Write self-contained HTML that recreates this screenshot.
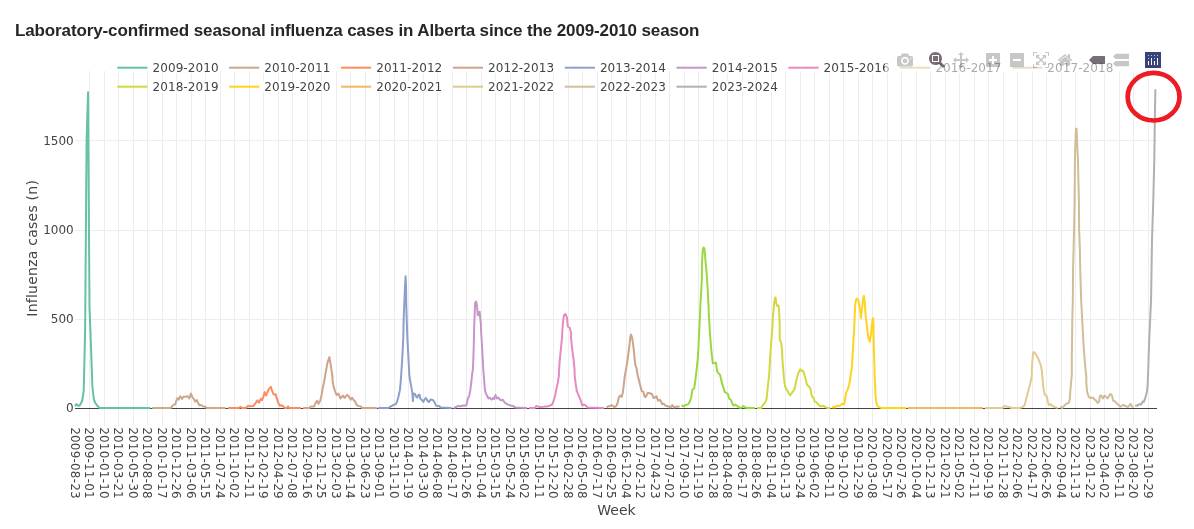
<!DOCTYPE html>
<html lang="en"><head><meta charset="utf-8"><title>Laboratory-confirmed seasonal influenza cases in Alberta</title>
<style>
html,body{margin:0;padding:0;background:#fff;}
body{width:1194px;height:529px;overflow:hidden;position:relative;font-family:'DejaVu Sans', 'Liberation Sans', sans-serif;}
#chart{position:absolute;left:0;top:0;display:block;}
h1{position:absolute;left:15px;top:20.7px;margin:0;font:bold 17px/20px 'Liberation Sans', sans-serif;color:#262626;white-space:nowrap;letter-spacing:-0.125px;}
.t{font-family:'DejaVu Sans', 'Liberation Sans', sans-serif;fill:#444444;}
.g line{stroke:#ededed;stroke-width:1;shape-rendering:crispEdges;}
.c path{fill:none;stroke-width:2;stroke-linejoin:round;stroke-linecap:butt;}
.lg line{stroke-width:2;}
</style></head><body>
<h1>Laboratory-confirmed seasonal influenza cases in Alberta since the 2009-2010 season</h1>
<svg id="chart" width="1194" height="529" viewBox="0 0 1194 529">
<g class="g">
<line x1="89.5" y1="71" x2="89.5" y2="426"/>
<line x1="104.5" y1="71" x2="104.5" y2="426"/>
<line x1="118.5" y1="71" x2="118.5" y2="426"/>
<line x1="133.5" y1="71" x2="133.5" y2="426"/>
<line x1="147.5" y1="71" x2="147.5" y2="426"/>
<line x1="162.5" y1="71" x2="162.5" y2="426"/>
<line x1="176.5" y1="71" x2="176.5" y2="426"/>
<line x1="191.5" y1="71" x2="191.5" y2="426"/>
<line x1="205.5" y1="71" x2="205.5" y2="426"/>
<line x1="220.5" y1="71" x2="220.5" y2="426"/>
<line x1="234.5" y1="71" x2="234.5" y2="426"/>
<line x1="249.5" y1="71" x2="249.5" y2="426"/>
<line x1="263.5" y1="71" x2="263.5" y2="426"/>
<line x1="278.5" y1="71" x2="278.5" y2="426"/>
<line x1="292.5" y1="71" x2="292.5" y2="426"/>
<line x1="307.5" y1="71" x2="307.5" y2="426"/>
<line x1="321.5" y1="71" x2="321.5" y2="426"/>
<line x1="336.5" y1="71" x2="336.5" y2="426"/>
<line x1="350.5" y1="71" x2="350.5" y2="426"/>
<line x1="365.5" y1="71" x2="365.5" y2="426"/>
<line x1="379.5" y1="71" x2="379.5" y2="426"/>
<line x1="394.5" y1="71" x2="394.5" y2="426"/>
<line x1="408.5" y1="71" x2="408.5" y2="426"/>
<line x1="423.5" y1="71" x2="423.5" y2="426"/>
<line x1="437.5" y1="71" x2="437.5" y2="426"/>
<line x1="452.5" y1="71" x2="452.5" y2="426"/>
<line x1="466.5" y1="71" x2="466.5" y2="426"/>
<line x1="481.5" y1="71" x2="481.5" y2="426"/>
<line x1="495.5" y1="71" x2="495.5" y2="426"/>
<line x1="510.5" y1="71" x2="510.5" y2="426"/>
<line x1="524.5" y1="71" x2="524.5" y2="426"/>
<line x1="539.5" y1="71" x2="539.5" y2="426"/>
<line x1="553.5" y1="71" x2="553.5" y2="426"/>
<line x1="568.5" y1="71" x2="568.5" y2="426"/>
<line x1="582.5" y1="71" x2="582.5" y2="426"/>
<line x1="597.5" y1="71" x2="597.5" y2="426"/>
<line x1="611.5" y1="71" x2="611.5" y2="426"/>
<line x1="626.5" y1="71" x2="626.5" y2="426"/>
<line x1="640.5" y1="71" x2="640.5" y2="426"/>
<line x1="655.5" y1="71" x2="655.5" y2="426"/>
<line x1="669.5" y1="71" x2="669.5" y2="426"/>
<line x1="684.5" y1="71" x2="684.5" y2="426"/>
<line x1="698.5" y1="71" x2="698.5" y2="426"/>
<line x1="713.5" y1="71" x2="713.5" y2="426"/>
<line x1="727.5" y1="71" x2="727.5" y2="426"/>
<line x1="742.5" y1="71" x2="742.5" y2="426"/>
<line x1="756.5" y1="71" x2="756.5" y2="426"/>
<line x1="771.5" y1="71" x2="771.5" y2="426"/>
<line x1="785.5" y1="71" x2="785.5" y2="426"/>
<line x1="800.5" y1="71" x2="800.5" y2="426"/>
<line x1="814.5" y1="71" x2="814.5" y2="426"/>
<line x1="829.5" y1="71" x2="829.5" y2="426"/>
<line x1="843.5" y1="71" x2="843.5" y2="426"/>
<line x1="858.5" y1="71" x2="858.5" y2="426"/>
<line x1="872.5" y1="71" x2="872.5" y2="426"/>
<line x1="887.5" y1="71" x2="887.5" y2="426"/>
<line x1="901.5" y1="71" x2="901.5" y2="426"/>
<line x1="916.5" y1="71" x2="916.5" y2="426"/>
<line x1="930.5" y1="71" x2="930.5" y2="426"/>
<line x1="945.5" y1="71" x2="945.5" y2="426"/>
<line x1="959.5" y1="71" x2="959.5" y2="426"/>
<line x1="974.5" y1="71" x2="974.5" y2="426"/>
<line x1="988.5" y1="71" x2="988.5" y2="426"/>
<line x1="1003.5" y1="71" x2="1003.5" y2="426"/>
<line x1="1017.5" y1="71" x2="1017.5" y2="426"/>
<line x1="1032.5" y1="71" x2="1032.5" y2="426"/>
<line x1="1046.5" y1="71" x2="1046.5" y2="426"/>
<line x1="1061.5" y1="71" x2="1061.5" y2="426"/>
<line x1="1075.5" y1="71" x2="1075.5" y2="426"/>
<line x1="1090.5" y1="71" x2="1090.5" y2="426"/>
<line x1="1104.5" y1="71" x2="1104.5" y2="426"/>
<line x1="1119.5" y1="71" x2="1119.5" y2="426"/>
<line x1="1133.5" y1="71" x2="1133.5" y2="426"/>
<line x1="1148.5" y1="71" x2="1148.5" y2="426"/>
<line x1="75" y1="319.5" x2="1157" y2="319.5"/>
<line x1="75" y1="230.5" x2="1157" y2="230.5"/>
<line x1="75" y1="140.5" x2="1157" y2="140.5"/>
</g>
<line x1="75" y1="408.5" x2="1157" y2="408.5" stroke="#444" stroke-width="1" shape-rendering="crispEdges"/>
<g class="c">
<path stroke="#66C2A5" d="M75.00,406.20L76.45,404.00L77.90,405.50L79.35,405.90L80.80,403.50L82.25,400.50L83.70,391.00L85.15,328.00L86.60,140.00L88.05,92.30L89.50,308.00L90.95,345.00L92.40,387.00L93.86,399.50L95.31,403.00L96.76,405.00L98.21,406.60L99.66,408.00L101.11,408.00L102.56,408.00L104.01,408.00L105.46,408.00L106.91,408.00L108.36,408.00L109.81,408.00L111.26,408.00L112.71,408.00L114.16,408.00L115.61,408.00L117.06,408.00L118.51,408.00L119.96,408.00L121.41,408.00L122.86,408.00L124.31,408.00L125.76,408.00L127.21,408.00L128.66,408.00L130.12,408.00L131.57,408.00L133.02,408.00L134.47,408.00L135.92,408.00L137.37,408.00L138.82,408.00L140.27,408.00L141.72,408.00L143.17,408.00L144.62,408.00L146.07,408.00L147.52,408.00L148.97,408.00L150.42,408.00"/>
<path stroke="#CBA88A" d="M152.20,408.00L170.72,408.00L172.99,405.34L175.26,404.21L176.39,400.42L177.53,398.15L178.66,399.67L180.17,396.26L182.07,398.91L183.58,396.64L185.85,396.79L187.74,396.26L189.25,398.53L190.92,393.62L192.28,397.02L194.17,399.67L195.30,401.56L196.82,400.05L197.95,402.69L199.46,405.34L200.98,404.96L203.25,406.48L205.51,406.85L206.65,408.00L225.60,408.00"/>
<path stroke="#FC8D62" d="M227.94,408.00L238.91,408.00L240.42,406.85L241.94,408.00L245.72,408.00L247.61,406.10L250.26,406.32L253.28,406.10L255.55,403.07L257.44,400.42L258.96,402.69L260.85,398.91L261.98,400.05L263.49,396.26L264.63,392.10L266.14,395.51L267.28,392.48L268.79,389.08L270.83,386.81L271.82,389.83L273.33,393.99L274.31,394.75L275.60,393.99L276.73,398.15L278.25,402.69L279.76,405.72L281.65,405.34L282.78,406.10L285.05,408.00L286.57,408.00L288.08,406.48L289.21,408.00L300.94,408.00"/>
<path stroke="#D0A48A" d="M303.17,408.00L309.37,408.00L310.89,406.39L313.91,406.62L315.42,403.37L317.09,400.72L318.60,403.74L320.34,400.34L321.48,395.42L322.61,388.62L324.12,381.81L325.26,375.00L327.53,362.40L329.42,357.10L330.93,366.18L332.44,376.77L332.44,375.00L332.59,381.05L333.58,386.35L335.09,391.26L336.60,395.05L338.49,393.53L340.39,398.45L343.03,395.57L344.55,397.84L347.19,394.82L348.86,396.56L350.60,399.58L352.11,397.69L353.62,399.96L355.14,401.48L356.65,404.88L358.16,405.86L360.81,406.39L361.94,408.00L377.07,408.00"/>
<path stroke="#8DA0CB" d="M378.17,408.00L388.53,408.00L390.05,406.77L392.69,405.26L395.72,404.12L396.85,402.23L398.37,396.94L399.88,390.13L400.64,382.56L401.16,375.00L402.15,360.69L403.28,338.00L403.66,318.91L404.42,300.00L404.95,287.69L405.55,276.35L406.08,287.69L406.16,300.00L406.69,318.91L407.44,340.02L408.58,360.69L409.33,375.00L410.09,380.30L411.23,386.35L412.36,393.15L412.89,401.10L413.49,393.53L415.01,393.91L416.29,396.94L417.28,397.69L418.41,395.05L419.55,394.82L420.30,398.45L422.19,400.34L423.33,401.85L424.61,399.21L425.98,398.07L427.49,400.72L428.85,402.08L430.51,399.58L432.78,399.96L434.30,401.85L436.19,405.86L439.21,406.01L440.73,407.53L451.69,408.00"/>
<path stroke="#C497C8" d="M453.93,408.00L456.35,406.77L458.99,405.86L460.51,406.39L462.78,405.48L465.05,405.86L466.56,404.88L467.69,399.21L469.21,395.80L470.34,390.13L471.32,381.81L472.08,375.00L472.99,368.02L473.74,346.91L474.12,328.00L474.65,314.96L475.11,302.86L476.16,301.50L477.07,306.26L477.75,315.34L479.64,311.71L480.25,318.74L480.93,324.04L480.93,328.00L482.07,346.91L483.20,368.02L483.73,375.00L484.33,382.56L484.94,390.13L485.85,393.53L487.36,396.18L488.49,398.45L489.63,397.69L491.52,399.58L493.03,398.07L494.17,399.05L495.53,395.05L496.82,398.45L498.33,397.54L499.84,399.58L501.35,400.34L502.87,399.81L504.38,402.23L506.27,403.74L509.30,405.11L513.08,406.01L515.73,407.53L527.07,408.00"/>
<path stroke="#E78AC3" d="M529.08,408.00L534.75,408.00L536.26,406.01L538.53,406.77L541.94,407.15L544.21,406.62L547.23,406.62L549.88,405.64L552.15,404.50L553.66,400.72L555.17,395.42L556.31,389.37L557.82,382.56L558.96,375.00L558.96,372.04L559.71,360.69L560.85,349.35L561.98,338.00L562.36,330.26L563.12,321.18L563.87,315.51L565.39,313.99L566.90,317.40L567.81,326.48L569.92,327.99L571.06,333.28L571.06,338.00L572.19,349.35L573.71,360.69L574.61,370.53L574.61,375.00L575.60,383.32L576.73,390.89L578.62,395.42L580.51,399.96L582.41,405.64L583.92,404.50L585.81,405.64L587.70,407.53L603.96,408.00"/>
<path stroke="#CDA58B" d="M606.59,407.53L608.48,406.16L609.99,406.01L611.51,405.26L613.02,405.86L614.53,407.38L616.42,405.64L617.56,402.99L618.69,397.69L620.21,395.57L621.72,396.94L622.85,392.40L623.61,386.35L624.37,379.54L624.97,375.00L626.26,368.02L627.77,358.26L629.28,346.91L630.42,336.32L630.95,334.43L632.16,337.83L633.44,346.91L634.58,358.26L635.33,365.07L636.47,368.02L637.60,375.00L638.74,379.54L640.25,385.59L641.76,391.26L643.28,391.64L644.79,397.09L645.92,396.56L647.82,392.78L649.71,393.31L651.98,394.06L653.64,398.07L655.00,397.31L656.36,396.18L658.03,400.72L659.92,399.81L661.05,401.48L662.19,404.12L663.70,403.74L665.59,405.86L668.62,406.39L670.51,407.53L672.25,405.11L673.91,407.53L676.18,406.77L679.59,406.62"/>
<path stroke="#9DD740" d="M681.46,405.26L683.72,406.39L685.62,404.88L687.89,404.50L689.78,401.85L691.29,396.94L692.42,389.75L694.31,388.24L695.30,380.30L696.05,375.00L696.96,366.42L697.87,357.35L698.48,346.00L699.23,331.13L699.99,316.00L700.37,304.48L701.12,293.13L701.88,278.00L701.88,266.48L702.41,255.13L703.01,248.32L703.62,247.56L704.53,249.08L705.28,258.91L706.42,270.26L706.95,278.00L707.70,289.35L708.46,304.48L708.91,316.00L709.82,331.13L710.96,346.26L710.96,346.00L711.71,354.32L712.85,363.40L715.87,362.64L716.78,368.69L717.39,372.10L720.03,374.74L721.17,379.28L721.55,381.81L723.06,386.35L724.57,391.64L726.08,392.78L727.98,394.29L729.11,398.45L731.00,399.96L732.51,404.12L733.65,405.64L735.16,404.65L737.81,406.39L740.08,408.00L741.97,407.38L743.48,406.01L745.00,407.53L747.64,408.00L754.83,408.00"/>
<path stroke="#D2D840" d="M757.08,408.00L761.24,408.00L763.13,404.50L765.02,402.99L766.53,399.21L767.29,391.64L768.27,382.56L769.18,375.00L770.31,354.48L771.45,339.35L772.36,328.00L772.96,316.48L774.10,303.62L775.08,297.72L775.61,297.56L776.37,303.62L777.12,305.89L778.64,305.51L779.16,312.69L779.62,324.04L779.77,339.35L781.28,343.13L782.19,352.96L782.19,356.00L782.95,365.83L783.93,378.69L785.07,386.26L787.33,390.80L789.98,395.33L792.25,392.31L794.52,389.28L796.03,381.72L797.92,374.15L800.19,369.24L801.71,371.13L803.22,370.75L805.11,377.18L807.00,384.74L810.03,387.77L811.16,391.55L811.16,393.91L812.30,396.56L813.81,398.45L814.57,401.48L816.08,401.85L817.97,404.12L819.86,406.01L821.75,406.39L823.26,405.64L825.16,406.77L827.05,408.00L830.45,408.00"/>
<path stroke="#FFD320" d="M832.32,408.00L833.46,406.77L834.97,407.53L836.48,405.64L838.37,406.01L840.26,405.64L842.15,403.74L843.82,404.65L844.80,401.48L845.94,393.15L847.45,390.13L848.96,385.59L850.10,379.54L850.63,375.00L851.84,368.02L852.74,352.96L853.50,339.35L854.26,328.00L854.64,316.48L855.16,305.13L856.15,299.46L857.28,298.62L858.42,300.59L859.93,308.91L860.91,318.14L862.20,307.40L863.33,297.56L863.94,295.90L864.70,301.35L865.60,314.96L867.12,327.82L868.25,337.08L869.76,341.77L871.28,331.78L872.41,320.26L873.02,317.99L873.55,324.80L873.55,335.56L873.92,350.69L874.53,368.02L874.68,377.27L874.98,382.56L875.44,393.91L876.19,401.48L877.33,406.01L879.22,407.15L881.49,408.00L906.07,408.00"/>
<path stroke="#F2B566" d="M907.60,408.00L982.80,408.00"/>
<path stroke="#E1CB8F" d="M984.93,408.00L1002.48,408.00L1004.37,405.86L1006.26,406.62L1009.28,406.92L1011.55,408.00L1019.87,408.00L1022.14,407.15L1024.41,405.64L1025.92,399.96L1027.82,392.40L1029.71,385.59L1031.22,379.54L1031.82,375.00L1031.82,370.26L1032.35,361.18L1033.11,353.24L1033.64,351.95L1035.76,353.99L1038.03,358.15L1040.67,364.96L1041.81,370.26L1042.19,375.00L1042.94,382.56L1043.70,390.13L1044.84,394.82L1046.73,396.18L1047.86,401.48L1049.00,405.26L1050.89,404.12L1052.40,406.01L1055.05,407.15L1057.69,408.00"/>
<path stroke="#CFBE98" d="M1060.21,406.39L1062.10,408.00L1064.37,405.64L1066.26,403.74L1067.78,403.37L1068.91,402.61L1069.82,399.21L1070.42,390.13L1071.18,381.05L1071.79,375.00L1071.79,356.91L1072.09,338.00L1072.31,318.91L1072.84,300.00L1073.07,270.02L1073.60,248.91L1074.05,230.00L1074.58,200.02L1074.81,178.91L1074.96,160.00L1075.19,148.74L1075.57,138.91L1075.95,128.93L1076.48,128.62L1077.08,138.91L1077.38,148.74L1077.99,160.00L1078.37,178.91L1078.90,200.02L1079.12,230.00L1079.88,248.91L1080.26,270.02L1081.16,300.00L1082.15,318.91L1083.28,340.02L1084.42,356.91L1086.31,378.02L1086.31,375.00L1086.31,382.56L1087.07,391.64L1088.58,396.56L1090.09,398.07L1092.74,397.54L1094.63,399.58L1096.52,401.10L1097.66,402.99L1099.17,401.48L1099.92,396.18L1101.06,395.42L1102.95,398.45L1104.46,395.57L1106.35,397.31L1107.64,398.45L1109.38,395.42L1110.51,393.91L1112.03,395.42L1113.16,400.72L1114.67,401.10L1117.32,403.74L1120.35,406.77L1123.00,404.88L1125.64,406.01L1127.91,407.15L1130.56,403.74L1132.07,406.77L1133.59,406.39"/>
<path stroke="#B0B0B0" d="M1135.17,405.26L1137.07,405.86L1139.33,404.12L1141.23,404.50L1142.74,401.48L1143.87,401.85L1145.39,397.69L1146.90,391.64L1147.66,384.83L1148.03,375.00L1149.20,340.00L1151.06,300.00L1152.00,240.00L1153.30,200.00L1154.30,160.00L1154.80,120.00L1155.40,89.30"/>
</g>
<g class="t" font-size="12">
<text transform="translate(75.00,427.2) rotate(90)" x="0" y="4.3" textLength="71.5" lengthAdjust="spacing">2009-08-23</text>
<text transform="translate(89.50,427.2) rotate(90)" x="0" y="4.3" textLength="71.5" lengthAdjust="spacing">2009-11-01</text>
<text transform="translate(104.01,427.2) rotate(90)" x="0" y="4.3" textLength="71.5" lengthAdjust="spacing">2010-01-10</text>
<text transform="translate(118.51,427.2) rotate(90)" x="0" y="4.3" textLength="71.5" lengthAdjust="spacing">2010-03-21</text>
<text transform="translate(133.02,427.2) rotate(90)" x="0" y="4.3" textLength="71.5" lengthAdjust="spacing">2010-05-30</text>
<text transform="translate(147.52,427.2) rotate(90)" x="0" y="4.3" textLength="71.5" lengthAdjust="spacing">2010-08-08</text>
<text transform="translate(162.02,427.2) rotate(90)" x="0" y="4.3" textLength="71.5" lengthAdjust="spacing">2010-10-17</text>
<text transform="translate(176.53,427.2) rotate(90)" x="0" y="4.3" textLength="71.5" lengthAdjust="spacing">2010-12-26</text>
<text transform="translate(191.03,427.2) rotate(90)" x="0" y="4.3" textLength="71.5" lengthAdjust="spacing">2011-03-06</text>
<text transform="translate(205.54,427.2) rotate(90)" x="0" y="4.3" textLength="71.5" lengthAdjust="spacing">2011-05-15</text>
<text transform="translate(220.04,427.2) rotate(90)" x="0" y="4.3" textLength="71.5" lengthAdjust="spacing">2011-07-24</text>
<text transform="translate(234.54,427.2) rotate(90)" x="0" y="4.3" textLength="71.5" lengthAdjust="spacing">2011-10-02</text>
<text transform="translate(249.05,427.2) rotate(90)" x="0" y="4.3" textLength="71.5" lengthAdjust="spacing">2011-12-11</text>
<text transform="translate(263.55,427.2) rotate(90)" x="0" y="4.3" textLength="71.5" lengthAdjust="spacing">2012-02-19</text>
<text transform="translate(278.06,427.2) rotate(90)" x="0" y="4.3" textLength="71.5" lengthAdjust="spacing">2012-04-29</text>
<text transform="translate(292.56,427.2) rotate(90)" x="0" y="4.3" textLength="71.5" lengthAdjust="spacing">2012-07-08</text>
<text transform="translate(307.06,427.2) rotate(90)" x="0" y="4.3" textLength="71.5" lengthAdjust="spacing">2012-09-16</text>
<text transform="translate(321.57,427.2) rotate(90)" x="0" y="4.3" textLength="71.5" lengthAdjust="spacing">2012-11-25</text>
<text transform="translate(336.07,427.2) rotate(90)" x="0" y="4.3" textLength="71.5" lengthAdjust="spacing">2013-02-03</text>
<text transform="translate(350.58,427.2) rotate(90)" x="0" y="4.3" textLength="71.5" lengthAdjust="spacing">2013-04-14</text>
<text transform="translate(365.08,427.2) rotate(90)" x="0" y="4.3" textLength="71.5" lengthAdjust="spacing">2013-06-23</text>
<text transform="translate(379.58,427.2) rotate(90)" x="0" y="4.3" textLength="71.5" lengthAdjust="spacing">2013-09-01</text>
<text transform="translate(394.09,427.2) rotate(90)" x="0" y="4.3" textLength="71.5" lengthAdjust="spacing">2013-11-10</text>
<text transform="translate(408.59,427.2) rotate(90)" x="0" y="4.3" textLength="71.5" lengthAdjust="spacing">2014-01-19</text>
<text transform="translate(423.10,427.2) rotate(90)" x="0" y="4.3" textLength="71.5" lengthAdjust="spacing">2014-03-30</text>
<text transform="translate(437.60,427.2) rotate(90)" x="0" y="4.3" textLength="71.5" lengthAdjust="spacing">2014-06-08</text>
<text transform="translate(452.10,427.2) rotate(90)" x="0" y="4.3" textLength="71.5" lengthAdjust="spacing">2014-08-17</text>
<text transform="translate(466.61,427.2) rotate(90)" x="0" y="4.3" textLength="71.5" lengthAdjust="spacing">2014-10-26</text>
<text transform="translate(481.11,427.2) rotate(90)" x="0" y="4.3" textLength="71.5" lengthAdjust="spacing">2015-01-04</text>
<text transform="translate(495.62,427.2) rotate(90)" x="0" y="4.3" textLength="71.5" lengthAdjust="spacing">2015-03-15</text>
<text transform="translate(510.12,427.2) rotate(90)" x="0" y="4.3" textLength="71.5" lengthAdjust="spacing">2015-05-24</text>
<text transform="translate(524.62,427.2) rotate(90)" x="0" y="4.3" textLength="71.5" lengthAdjust="spacing">2015-08-02</text>
<text transform="translate(539.13,427.2) rotate(90)" x="0" y="4.3" textLength="71.5" lengthAdjust="spacing">2015-10-11</text>
<text transform="translate(553.63,427.2) rotate(90)" x="0" y="4.3" textLength="71.5" lengthAdjust="spacing">2015-12-20</text>
<text transform="translate(568.14,427.2) rotate(90)" x="0" y="4.3" textLength="71.5" lengthAdjust="spacing">2016-02-28</text>
<text transform="translate(582.64,427.2) rotate(90)" x="0" y="4.3" textLength="71.5" lengthAdjust="spacing">2016-05-08</text>
<text transform="translate(597.14,427.2) rotate(90)" x="0" y="4.3" textLength="71.5" lengthAdjust="spacing">2016-07-17</text>
<text transform="translate(611.65,427.2) rotate(90)" x="0" y="4.3" textLength="71.5" lengthAdjust="spacing">2016-09-25</text>
<text transform="translate(626.15,427.2) rotate(90)" x="0" y="4.3" textLength="71.5" lengthAdjust="spacing">2016-12-04</text>
<text transform="translate(640.66,427.2) rotate(90)" x="0" y="4.3" textLength="71.5" lengthAdjust="spacing">2017-02-12</text>
<text transform="translate(655.16,427.2) rotate(90)" x="0" y="4.3" textLength="71.5" lengthAdjust="spacing">2017-04-23</text>
<text transform="translate(669.66,427.2) rotate(90)" x="0" y="4.3" textLength="71.5" lengthAdjust="spacing">2017-07-02</text>
<text transform="translate(684.17,427.2) rotate(90)" x="0" y="4.3" textLength="71.5" lengthAdjust="spacing">2017-09-10</text>
<text transform="translate(698.67,427.2) rotate(90)" x="0" y="4.3" textLength="71.5" lengthAdjust="spacing">2017-11-19</text>
<text transform="translate(713.18,427.2) rotate(90)" x="0" y="4.3" textLength="71.5" lengthAdjust="spacing">2018-01-28</text>
<text transform="translate(727.68,427.2) rotate(90)" x="0" y="4.3" textLength="71.5" lengthAdjust="spacing">2018-04-08</text>
<text transform="translate(742.18,427.2) rotate(90)" x="0" y="4.3" textLength="71.5" lengthAdjust="spacing">2018-06-17</text>
<text transform="translate(756.69,427.2) rotate(90)" x="0" y="4.3" textLength="71.5" lengthAdjust="spacing">2018-08-26</text>
<text transform="translate(771.19,427.2) rotate(90)" x="0" y="4.3" textLength="71.5" lengthAdjust="spacing">2018-11-04</text>
<text transform="translate(785.70,427.2) rotate(90)" x="0" y="4.3" textLength="71.5" lengthAdjust="spacing">2019-01-13</text>
<text transform="translate(800.20,427.2) rotate(90)" x="0" y="4.3" textLength="71.5" lengthAdjust="spacing">2019-03-24</text>
<text transform="translate(814.71,427.2) rotate(90)" x="0" y="4.3" textLength="71.5" lengthAdjust="spacing">2019-06-02</text>
<text transform="translate(829.21,427.2) rotate(90)" x="0" y="4.3" textLength="71.5" lengthAdjust="spacing">2019-08-11</text>
<text transform="translate(843.71,427.2) rotate(90)" x="0" y="4.3" textLength="71.5" lengthAdjust="spacing">2019-10-20</text>
<text transform="translate(858.22,427.2) rotate(90)" x="0" y="4.3" textLength="71.5" lengthAdjust="spacing">2019-12-29</text>
<text transform="translate(872.72,427.2) rotate(90)" x="0" y="4.3" textLength="71.5" lengthAdjust="spacing">2020-03-08</text>
<text transform="translate(887.23,427.2) rotate(90)" x="0" y="4.3" textLength="71.5" lengthAdjust="spacing">2020-05-17</text>
<text transform="translate(901.73,427.2) rotate(90)" x="0" y="4.3" textLength="71.5" lengthAdjust="spacing">2020-07-26</text>
<text transform="translate(916.23,427.2) rotate(90)" x="0" y="4.3" textLength="71.5" lengthAdjust="spacing">2020-10-04</text>
<text transform="translate(930.74,427.2) rotate(90)" x="0" y="4.3" textLength="71.5" lengthAdjust="spacing">2020-12-13</text>
<text transform="translate(945.24,427.2) rotate(90)" x="0" y="4.3" textLength="71.5" lengthAdjust="spacing">2021-02-21</text>
<text transform="translate(959.75,427.2) rotate(90)" x="0" y="4.3" textLength="71.5" lengthAdjust="spacing">2021-05-02</text>
<text transform="translate(974.25,427.2) rotate(90)" x="0" y="4.3" textLength="71.5" lengthAdjust="spacing">2021-07-11</text>
<text transform="translate(988.75,427.2) rotate(90)" x="0" y="4.3" textLength="71.5" lengthAdjust="spacing">2021-09-19</text>
<text transform="translate(1003.26,427.2) rotate(90)" x="0" y="4.3" textLength="71.5" lengthAdjust="spacing">2021-11-28</text>
<text transform="translate(1017.76,427.2) rotate(90)" x="0" y="4.3" textLength="71.5" lengthAdjust="spacing">2022-02-06</text>
<text transform="translate(1032.27,427.2) rotate(90)" x="0" y="4.3" textLength="71.5" lengthAdjust="spacing">2022-04-17</text>
<text transform="translate(1046.77,427.2) rotate(90)" x="0" y="4.3" textLength="71.5" lengthAdjust="spacing">2022-06-26</text>
<text transform="translate(1061.27,427.2) rotate(90)" x="0" y="4.3" textLength="71.5" lengthAdjust="spacing">2022-09-04</text>
<text transform="translate(1075.78,427.2) rotate(90)" x="0" y="4.3" textLength="71.5" lengthAdjust="spacing">2022-11-13</text>
<text transform="translate(1090.28,427.2) rotate(90)" x="0" y="4.3" textLength="71.5" lengthAdjust="spacing">2023-01-22</text>
<text transform="translate(1104.79,427.2) rotate(90)" x="0" y="4.3" textLength="71.5" lengthAdjust="spacing">2023-04-02</text>
<text transform="translate(1119.29,427.2) rotate(90)" x="0" y="4.3" textLength="71.5" lengthAdjust="spacing">2023-06-11</text>
<text transform="translate(1133.79,427.2) rotate(90)" x="0" y="4.3" textLength="71.5" lengthAdjust="spacing">2023-08-20</text>
<text transform="translate(1148.30,427.2) rotate(90)" x="0" y="4.3" textLength="71.5" lengthAdjust="spacing">2023-10-29</text>
</g>
<g class="t" font-size="12" text-anchor="end">
<text x="73.7" y="412">0</text>
<text x="73.7" y="323">500</text>
<text x="73.7" y="234">1000</text>
<text x="73.7" y="145">1500</text>
</g>
<text class="t" font-size="14" text-anchor="middle" x="616.5" y="515">Week</text>
<text class="t" font-size="14" text-anchor="middle" letter-spacing="0.24" transform="translate(36.5,248.3) rotate(-90)">Influenza cases (n)</text>
<g class="lg">
<line x1="117.3" y1="67.7" x2="147.5" y2="67.7" stroke="#66C2A5"/>
<rect x="151.3" y="61.9" width="68.5" height="11.2" fill="#ffffff"/>
<text class="t" font-size="12" letter-spacing="0.08" x="152.5" y="72.1">2009-2010</text>
<line x1="229.1" y1="67.7" x2="259.3" y2="67.7" stroke="#CBA88A"/>
<rect x="263.1" y="61.9" width="68.5" height="11.2" fill="#ffffff"/>
<text class="t" font-size="12" letter-spacing="0.08" x="264.3" y="72.1">2010-2011</text>
<line x1="341.0" y1="67.7" x2="371.2" y2="67.7" stroke="#FC8D62"/>
<rect x="375.0" y="61.9" width="68.5" height="11.2" fill="#ffffff"/>
<text class="t" font-size="12" letter-spacing="0.08" x="376.2" y="72.1">2011-2012</text>
<line x1="452.8" y1="67.7" x2="483.0" y2="67.7" stroke="#D0A48A"/>
<rect x="486.8" y="61.9" width="68.5" height="11.2" fill="#ffffff"/>
<text class="t" font-size="12" letter-spacing="0.08" x="488.0" y="72.1">2012-2013</text>
<line x1="564.7" y1="67.7" x2="594.9" y2="67.7" stroke="#8DA0CB"/>
<rect x="598.7" y="61.9" width="68.5" height="11.2" fill="#ffffff"/>
<text class="t" font-size="12" letter-spacing="0.08" x="599.9" y="72.1">2013-2014</text>
<line x1="676.5" y1="67.7" x2="706.8" y2="67.7" stroke="#C497C8"/>
<rect x="710.5" y="61.9" width="68.5" height="11.2" fill="#ffffff"/>
<text class="t" font-size="12" letter-spacing="0.08" x="711.8" y="72.1">2014-2015</text>
<line x1="788.4" y1="67.7" x2="818.6" y2="67.7" stroke="#E78AC3"/>
<rect x="822.4" y="61.9" width="68.5" height="11.2" fill="#ffffff"/>
<text class="t" font-size="12" letter-spacing="0.08" x="823.6" y="72.1">2015-2016</text>
<line x1="900.2" y1="67.7" x2="930.4" y2="67.7" stroke="#CAB975"/>
<rect x="934.2" y="61.9" width="68.5" height="11.2" fill="#ffffff"/>
<text class="t" font-size="12" letter-spacing="0.08" x="935.4" y="72.1">2016-2017</text>
<line x1="1012.1" y1="67.7" x2="1042.3" y2="67.7" stroke="#CAB975"/>
<rect x="1046.1" y="61.9" width="68.5" height="11.2" fill="#ffffff"/>
<text class="t" font-size="12" letter-spacing="0.08" x="1047.3" y="72.1">2017-2018</text>
<line x1="117.3" y1="86.7" x2="147.5" y2="86.7" stroke="#D2D840"/>
<rect x="151.3" y="80.9" width="68.5" height="11.2" fill="#ffffff"/>
<text class="t" font-size="12" letter-spacing="0.08" x="152.5" y="91.1">2018-2019</text>
<line x1="229.1" y1="86.7" x2="259.3" y2="86.7" stroke="#FFD320"/>
<rect x="263.1" y="80.9" width="68.5" height="11.2" fill="#ffffff"/>
<text class="t" font-size="12" letter-spacing="0.08" x="264.3" y="91.1">2019-2020</text>
<line x1="341.0" y1="86.7" x2="371.2" y2="86.7" stroke="#F2B566"/>
<rect x="375.0" y="80.9" width="68.5" height="11.2" fill="#ffffff"/>
<text class="t" font-size="12" letter-spacing="0.08" x="376.2" y="91.1">2020-2021</text>
<line x1="452.8" y1="86.7" x2="483.0" y2="86.7" stroke="#E1CB8F"/>
<rect x="486.8" y="80.9" width="68.5" height="11.2" fill="#ffffff"/>
<text class="t" font-size="12" letter-spacing="0.08" x="488.0" y="91.1">2021-2022</text>
<line x1="564.7" y1="86.7" x2="594.9" y2="86.7" stroke="#CFBE98"/>
<rect x="598.7" y="80.9" width="68.5" height="11.2" fill="#ffffff"/>
<text class="t" font-size="12" letter-spacing="0.08" x="599.9" y="91.1">2022-2023</text>
<line x1="676.5" y1="86.7" x2="706.8" y2="86.7" stroke="#B0B0B0"/>
<rect x="710.5" y="80.9" width="68.5" height="11.2" fill="#ffffff"/>
<text class="t" font-size="12" letter-spacing="0.08" x="711.8" y="91.1">2023-2024</text>
</g>
<rect x="885" y="49" width="280" height="24" fill="#ffffff" fill-opacity="0.55"/>
<g fill="#444444">
<path fill="#444444" fill-opacity="0.3" transform="translate(897.000,52.000) scale(0.01600) matrix(1 0 0 -1 0 850)" d="m500 450c-83 0-150-67-150-150 0-83 67-150 150-150 83 0 150 67 150 150 0 83-67 150-150 150z m400 150h-120c-16 0-34 13-39 29l-31 93c-6 15-23 28-40 28h-340c-16 0-34-13-39-28l-31-94c-6-15-23-28-40-28h-120c-55 0-100-45-100-100v-450c0-55 45-100 100-100h800c55 0 100 45 100 100v450c0 55-45 100-100 100z m-400-550c-138 0-250 112-250 250 0 138 112 250 250 250 138 0 250-112 250-250 0-138-112-250-250-250z m365 380c-19 0-35 16-35 35 0 19 16 35 35 35 19 0 35-16 35-35 0-19-16-35-35-35z"/>
<path fill="#40303a" fill-opacity="0.7" transform="translate(929.000,52.000) scale(0.01600) matrix(1 0 0 -1 0 850)" d="m1000-25l-250 251c40 63 63 138 63 218 0 224-182 406-407 406-224 0-406-182-406-406s183-406 407-406c80 0 155 22 218 62l250-250 125 125z m-812 250l0 438 437 0 0-438-437 0z m62 375l313 0 0-312-313 0 0 312z"/>
<path fill="#444444" fill-opacity="0.3" transform="translate(953.000,52.000) scale(0.01600) matrix(1 0 0 -1 0 850)" d="m1000 350l-187 188 0-125-250 0 0 250 125 0-188 187-187-187 125 0 0-250-250 0 0 125-188-188 186-187 0 125 252 0 0-250-125 0 187-188 188 188-125 0 0 250 250 0 0-126 187 188z"/>
<path fill="#444444" fill-opacity="0.3" transform="translate(986.000,52.000) scale(0.01600) matrix(1 0 0 -1 0 850)" d="m1 787l0-875 875 0 0 875-875 0z m687-500l-187 0 0-187-125 0 0 187-188 0 0 125 188 0 0 187 125 0 0-187 187 0 0-125z"/>
<path fill="#444444" fill-opacity="0.3" transform="translate(1010.000,52.000) scale(0.01600) matrix(1 0 0 -1 0 850)" d="m0 788l0-876 875 0 0 876-875 0z m688-500l-500 0 0 125 500 0 0-125z"/>
<path fill="#444444" fill-opacity="0.3" transform="translate(1033.000,52.000) scale(0.01600) matrix(1 0 0 -1 0 850)" d="m250 850l-187 0-63 0 0-62 0-188 63 0 0 188 187 0 0 62z m688 0l-188 0 0-62 188 0 0-188 62 0 0 188 0 62-62 0z m-875-938l0 188-63 0 0-188 0-62 63 0 187 0 0 62-187 0z m875 188l0-188-188 0 0-62 188 0 62 0 0 62 0 188-62 0z m-125 188l-1 0-93-94-156 156 156 156 92-93 2 0 0 250-250 0 0-2 93-92-156-156-156 156 94 92 0 2-250 0 0-250 0 0 93 93 157-156-157-156-93 94 0 0 0-250 250 0 0 0-94 93 156 157 156-157-93-93 0 0 250 0 0 250z"/>
<path fill="#444444" fill-opacity="0.3" transform="translate(1057.571,52.000) scale(0.01600) matrix(1 0 0 -1 0 850)" d="m786 296v-267q0-15-11-26t-25-10h-214v214h-143v-214h-214q-15 0-25 10t-11 26v267q0 1 0 2t0 2l321 264 321-264q1-1 1-4z m124 39l-34-41q-5-5-12-6h-2q-7 0-12 3l-386 322-386-322q-7-4-13-4-7 2-12 7l-35 41q-4 5-3 13t6 12l401 334q18 15 42 15t43-15l136-114v109q0 8 5 13t13 5h107q8 0 13-5t5-13v-227l122-102q5-5 6-12t-4-13z"/>
<path fill="#40303a" fill-opacity="0.7" transform="translate(1089.000,54.667) scale(0.01067) matrix(1 0 0 -1 0 850)" d="m375 725l0 0-375-375 375-374 0-1 1125 0 0 750-1125 0z"/>
<path fill="#444444" fill-opacity="0.3" transform="translate(1113.000,52.889) scale(0.01422) matrix(1 0 0 -1 0 850)" d="m187 786l0 2-187-188 188-187 0 0 937 0 0 373-938 0z m0-499l0 1-187-188 188-188 0 0 937 0 0 376-938-1z"/>
</g>
<g shape-rendering="crispEdges">
<rect x="1145" y="52" width="16" height="16" fill="#3b4179"/>
<rect x="1148" y="61" width="1.2" height="4" fill="#ffffff"/>
<rect x="1148" y="55" width="1.2" height="1.4" fill="#8fd6f0"/>
<rect x="1148" y="58" width="1.2" height="1.4" fill="#8fd6f0"/>
<rect x="1151" y="57.5" width="1.2" height="7.5" fill="#ffffff"/>
<rect x="1151" y="55" width="1.2" height="1.4" fill="#8fd6f0"/>
<rect x="1154" y="61" width="1.2" height="4" fill="#ffffff"/>
<rect x="1154" y="55" width="1.2" height="1.4" fill="#8fd6f0"/>
<rect x="1154" y="58" width="1.2" height="1.4" fill="#8fd6f0"/>
<rect x="1157" y="57.5" width="1.2" height="7.5" fill="#ffffff"/>
<rect x="1157" y="55" width="1.2" height="1.4" fill="#8fd6f0"/>
</g>
<ellipse cx="1153.6" cy="96.7" rx="25.9" ry="23.8" fill="none" stroke="#ed1c24" stroke-width="4.7"/>
</svg>
</body></html>
